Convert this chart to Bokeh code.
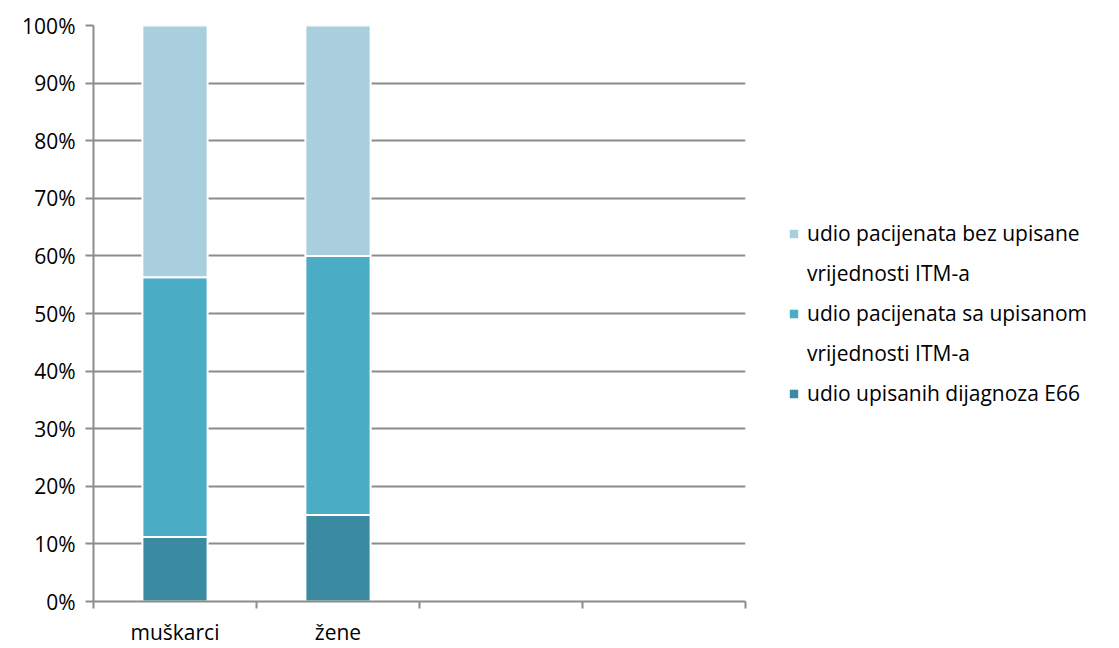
from bokeh.plotting import figure
from bokeh.models import (ColumnDataSource, FixedTicker, Legend, LegendItem,
                          NumeralTickFormatter, Range1d)
from bokeh.embed import file_html
from bokeh.resources import INLINE

# Share of patients by sex (percent)
categories = ["muškarci", "žene"]
e66 = [11.2, 15.0]            # udio upisanih dijagnoza E66
with_bmi = [45.1, 45.0]       # udio pacijenata sa upisanom vrijednosti ITM-a
without_bmi = [43.7, 40.0]    # udio pacijenata bez upisane vrijednosti ITM-a

series_labels = [
    ("udio pacijenata bez upisane", "vrijednosti ITM-a"),
    ("udio pacijenata sa upisanom", "vrijednosti ITM-a"),
    ("udio upisanih dijagnoza E66", None),
]
colors = ["#3A8BA1", "#4BACC6", "#A9CEDD"]  # E66, with ITM, without ITM
y_ticks = [0, 10, 20, 30, 40, 50, 60, 70, 80, 90, 100]

FONT = "Open Sans"
GRID = "#8C8C8C"

xpos = [i + 0.5 for i in range(len(categories))]
src = ColumnDataSource(dict(
    x=xpos,
    b0=[0.0] * len(categories),
    t0=[a / 100 for a in e66],
    t1=[(a + b) / 100 for a, b in zip(e66, with_bmi)],
    t2=[(a + b + c) / 100 for a, b, c in zip(e66, with_bmi, without_bmi)],
))

p = figure(frame_width=652, frame_height=576,
           x_range=Range1d(0, 4), y_range=Range1d(0, 1),
           output_backend="svg", toolbar_location=None,
           min_border_left=93, min_border_top=25, min_border_bottom=0,
           min_border_right=0, background_fill_color="white",
           border_fill_color="white", outline_line_color=None)

r_e66 = p.vbar(x="x", bottom="b0", top="t0", width=0.4, source=src,
               fill_color=colors[0], line_color="white", line_width=2)
r_with = p.vbar(x="x", bottom="t0", top="t1", width=0.4, source=src,
                fill_color=colors[1], line_color="white", line_width=2)
r_without = p.vbar(x="x", bottom="t1", top="t2", width=0.4, source=src,
                   fill_color=colors[2], line_color="white", line_width=2)
# invisible renderer used for the second line of wrapped legend entries
r_blank = p.scatter(x=[-1], y=[-1], size=0, fill_alpha=0, line_alpha=0)

# y axis
p.yaxis.ticker = FixedTicker(ticks=[t / 100 for t in y_ticks])
p.yaxis.formatter = NumeralTickFormatter(format="0%")
p.yaxis.axis_line_color = GRID
p.yaxis.axis_line_width = 2
p.yaxis.major_tick_line_color = GRID
p.yaxis.major_tick_line_width = 2
p.yaxis.major_tick_out = 8
p.yaxis.major_tick_in = 0
p.yaxis.minor_tick_line_color = None
p.yaxis.major_label_standoff = 10
p.yaxis.major_label_text_font = FONT
p.yaxis.major_label_text_font_size = "21px"
p.yaxis.major_label_text_color = "black"

# x axis: labels at slot centres, tick marks on slot boundaries
p.xaxis.ticker = FixedTicker(ticks=xpos, minor_ticks=[0, 1, 2, 3, 4])
p.xaxis.major_label_overrides = {x: c for x, c in zip(xpos, categories)}
p.xaxis.axis_line_color = GRID
p.xaxis.axis_line_width = 2
p.xaxis.major_tick_line_color = None
p.xaxis.minor_tick_line_color = GRID
p.xaxis.minor_tick_line_width = 2
p.xaxis.minor_tick_out = 7
p.xaxis.minor_tick_in = 0
p.xaxis.major_label_standoff = 9
p.xaxis.major_label_text_font = FONT
p.xaxis.major_label_text_font_size = "21px"
p.xaxis.major_label_text_color = "black"

p.xgrid.grid_line_color = None
p.ygrid.grid_line_color = GRID
p.ygrid.grid_line_width = 2

items = []
for (first, second), r in zip(series_labels, [r_without, r_with, r_e66]):
    items.append(LegendItem(label=first, renderers=[r]))
    if second:
        items.append(LegendItem(label=second, renderers=[r_blank]))

legend = Legend(items=items, location="center_left", margin=42, padding=0,
                border_line_color=None, background_fill_alpha=0,
                glyph_width=13, glyph_height=13, label_standoff=7,
                label_height=34, spacing=6,
                label_text_font=FONT, label_text_font_size="21px",
                label_text_color="black")
p.add_layout(legend, "right")

open("out.html", "w").write(file_html(p, INLINE))
